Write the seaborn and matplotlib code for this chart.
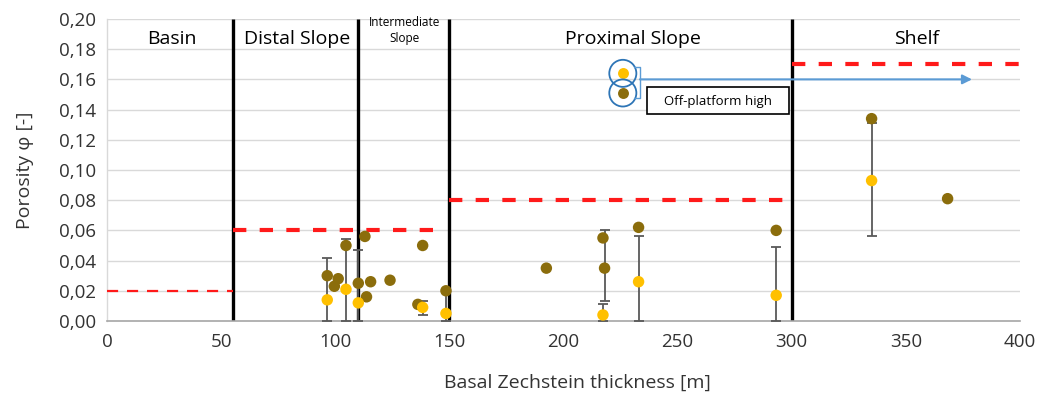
import numpy as np
import pandas as pd
import matplotlib
matplotlib.use("Agg")
import matplotlib.pyplot as plt
from matplotlib.patches import Rectangle
from matplotlib.ticker import FixedLocator, FixedFormatter
import seaborn as sns

# ---- data -------------------------------------------------------------
# Off-platform high wells (brown) : thickness [m], porosity [-]
thick_high = [96.5, 101.3, 99.6, 104.7, 113.0, 110.1, 115.5, 113.7, 124.0,
              138.3, 136.2, 148.5, 192.5, 217.3, 218.0, 232.9, 293.2, 335.0, 368.3]
poro_high = [0.030, 0.028, 0.023, 0.050, 0.056, 0.025, 0.026, 0.016, 0.027,
             0.050, 0.011, 0.020, 0.035, 0.055, 0.035, 0.062, 0.060, 0.134, 0.081]

# Mean porosity per location (yellow) with asymmetric spread
thick_mean = [96.5, 104.7, 110.1, 138.3, 148.5, 217.3, 232.9, 293.2, 335.0]
poro_mean = [0.014, 0.021, 0.012, 0.009, 0.005, 0.004, 0.026, 0.017, 0.093]
err_mean_lo = [0.014, 0.021, 0.012, 0.005, 0.005, 0.004, 0.026, 0.017, 0.037]
err_mean_hi = [0.028, 0.033, 0.035, 0.004, 0.014, 0.007, 0.030, 0.032, 0.038]

# Spread on one off-platform-high point
thick_high_err = [218.0]
poro_high_err = [0.035]
err_high_lo = [0.022]
err_high_hi = [0.025]

# Depositional zones
zone_names = ["Basin", "Distal Slope", "Intermediate\nSlope", "Proximal Slope", "Shelf"]
zone_label_x = [28.5, 83.4, 130.5, 230.4, 354.5]
zone_bounds = [55, 110, 150, 300]

# Porosity cut-off per zone (start, end, value)
cutoff_start = [0, 55, 150, 300]
cutoff_end = [55, 148, 300, 400]
cutoff_value = [0.02, 0.06, 0.08, 0.17]

x_ticks = [0, 50, 100, 150, 200, 250, 300, 350, 400]
y_ticks = [0.00, 0.02, 0.04, 0.06, 0.08, 0.10, 0.12, 0.14, 0.16, 0.18, 0.20]
y_tick_labels = ["0,00", "0,02", "0,04", "0,06", "0,08", "0,10",
                 "0,12", "0,14", "0,16", "0,18", "0,20"]

# ---- style ------------------------------------------------------------
sns.set_style("white")
plt.rcParams["font.family"] = ["Open Sans", "DejaVu Sans"]

BROWN = "#8B6D0C"
YELLOW = "#FFC000"
GRID = "#D9D9D9"
TEXT = "#333333"
BLUE = "#5B9BD5"

fig = plt.figure(figsize=(10.46, 3.98), dpi=100)
ax = fig.add_axes([0.1023, 0.1935, 0.8728, 0.7588])

ax.set_xlim(0, 400)
ax.set_ylim(0, 0.20)

# horizontal gridlines
for yv in y_ticks[1:]:
    ax.axhline(yv, color=GRID, lw=1.0, zorder=0)

# zone boundaries
for xb in zone_bounds:
    ax.plot([xb, xb], [0, 0.20], color="black", lw=2.4, zorder=2,
            solid_capstyle="butt")

# porosity cut-off lines
for i, (x0, x1, v) in enumerate(zip(cutoff_start, cutoff_end, cutoff_value)):
    if i == 0:
        ax.plot([x0, x1], [v, v], color="#FF1A1A", lw=1.6, dashes=(5, 4), zorder=3)
    else:
        ax.plot([x0, x1], [v, v], color="#FF1A1A", lw=3.0, dashes=(3.2, 3.2), zorder=3)

# error bars
ax.errorbar(thick_mean, poro_mean, yerr=[err_mean_lo, err_mean_hi], fmt="none",
            ecolor="#595959", elinewidth=1.3, capsize=3.5, capthick=1.3, zorder=4)
ax.errorbar(thick_high_err, poro_high_err, yerr=[err_high_lo, err_high_hi], fmt="none",
            ecolor="#595959", elinewidth=1.3, capsize=3.5, capthick=1.3, zorder=4)

# points
df = pd.DataFrame({
    "thickness": thick_high + thick_mean,
    "porosity": poro_high + poro_mean,
    "series": ["high"] * len(thick_high) + ["mean"] * len(thick_mean),
})
sns.scatterplot(data=df, x="thickness", y="porosity", hue="series",
                palette={"high": BROWN, "mean": YELLOW}, s=68, linewidth=0,
                legend=False, ax=ax, zorder=5)

# key for the off-platform high
key_x = 226.0
key_y = [0.164, 0.151]
ax.scatter([key_x], [key_y[0]], s=62, color=YELLOW, linewidth=0, zorder=6)
ax.scatter([key_x], [key_y[1]], s=62, color=BROWN, linewidth=0, zorder=6)
ax.scatter([key_x, key_x], key_y, s=380, facecolor="none", edgecolor="#2E75B6",
           linewidth=1.3, zorder=6)
ax.plot([231.0, 233.5, 233.5, 231.0], [0.168, 0.168, 0.148, 0.148],
        color=BLUE, lw=1.0, zorder=6)
ax.annotate("", xy=(379, 0.160), xytext=(233.5, 0.160),
            arrowprops=dict(arrowstyle="-|>", color=BLUE, lw=1.5,
                            mutation_scale=14, shrinkA=0, shrinkB=0), zorder=6)
ax.add_patch(Rectangle((236.5, 0.137), 62.2, 0.018, facecolor="white",
                       edgecolor="black", lw=1.2, zorder=7))
ax.text(267.6, 0.1455, "Off-platform high", ha="center", va="center",
        fontsize=9.5, color="black", zorder=8)

# zone labels
for name, xl in zip(zone_names, zone_label_x):
    if "\n" in name:
        ax.text(xl, 0.1925, name, ha="center", va="center", fontsize=8.5,
                color="black", linespacing=1.35, zorder=8)
    else:
        ax.text(xl, 0.187, name, ha="center", va="center", fontsize=14,
                color="black", zorder=8)

# axes
ax.xaxis.set_major_locator(FixedLocator(x_ticks))
ax.yaxis.set_major_locator(FixedLocator(y_ticks))
ax.yaxis.set_major_formatter(FixedFormatter(y_tick_labels))
ax.tick_params(axis="both", length=0, labelsize=13.5, labelcolor=TEXT)
ax.tick_params(axis="y", pad=8)
ax.tick_params(axis="x", pad=9)

for side in ["top", "right"]:
    ax.spines[side].set_visible(False)
ax.spines["left"].set_color(GRID)
ax.spines["left"].set_linewidth(1.0)
ax.spines["bottom"].set_color("#A6A6A6")
ax.spines["bottom"].set_linewidth(1.2)

ax.set_xlabel("Basal Zechstein thickness [m]", fontsize=14, color=TEXT)
ax.set_ylabel("Porosity φ [-]", fontsize=14, color=TEXT)
ax.xaxis.set_label_coords(0.515, -0.175)
ax.yaxis.set_label_coords(-0.08, 0.5)

fig.savefig("out.png", dpi=100, facecolor="white")
